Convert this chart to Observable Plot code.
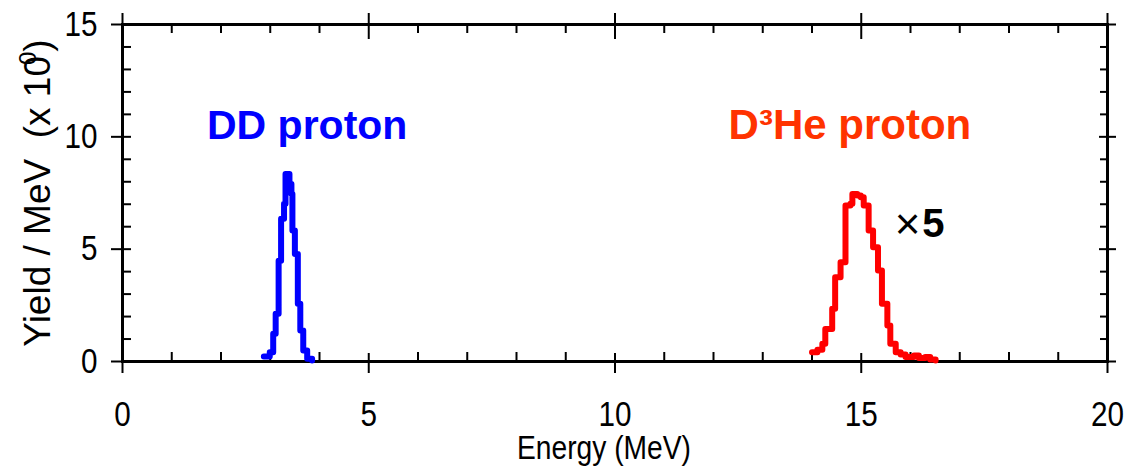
<!DOCTYPE html>
<html><head><meta charset="utf-8">
<script src="https://cdn.jsdelivr.net/npm/d3@7"></script>
<script src="https://cdn.jsdelivr.net/npm/@observablehq/plot@0.6"></script>
<style>
  html,body{margin:0;padding:0;background:#fff;}
  #chart svg{display:block;}
</style>
</head><body><div id="chart"></div>
<script>
// DD proton spectrum (step histogram: bin left edge in MeV, yield / MeV in units of 10^0)
const ddEnergy = [2.87, 2.99, 3.06, 3.11, 3.17, 3.22, 3.28, 3.31, 3.39, 3.43, 3.45, 3.50, 3.56, 3.61, 3.67, 3.75, 3.85];
const ddYield  = [0.22, 0.41, 1.23, 2.12, 4.49, 6.35, 7.02, 8.35, 7.90, 7.46, 5.83, 4.79, 2.57, 1.38, 0.49, 0.12, 0.04];
// D3He proton spectrum, shown multiplied by 5
const d3heEnergy = [14.00, 14.11, 14.21, 14.27, 14.41, 14.47, 14.58, 14.68, 14.78, 14.82, 14.92, 14.99, 15.05, 15.15, 15.24, 15.34, 15.42, 15.53, 15.59, 15.70, 15.80, 15.90, 16.07, 16.17, 16.30, 16.40, 16.51];
const d3heYield  = [0.41, 0.52, 0.79, 1.45, 2.35, 3.75, 4.42, 6.94, 7.02, 7.46, 7.39, 7.31, 6.94, 5.83, 5.09, 4.05, 2.57, 1.60, 0.79, 0.41, 0.31, 0.20, 0.27, 0.16, 0.20, 0.09, 0.05];

const xMajor = [0, 5, 10, 15, 20];
const xMinor = [1, 2, 3, 4, 6, 7, 8, 9, 11, 12, 13, 14, 16, 17, 18, 19];
const yMajor = [0, 5, 10, 15];
const yMinor = [1, 2, 3, 4, 6, 7, 8, 9, 11, 12, 13, 14];
const xTickLabels = ["0", "5", "10", "15", "20"];
const yTickLabels = ["0", "5", "10", "15"];
const xTitle = "Energy (MeV)";
const yTitle = "Yield / MeV  (x 10";
const ddLabel = "DD proton";
const d3heLabel = "D³He proton";

const dd = ddEnergy.map((e, i) => ({e, y: ddYield[i]}));
const d3he = d3heEnergy.map((e, i) => ({e, y: d3heYield[i]}));

const W = 1125, H = 466, mL = 122, mR = 18, mT = 24, mB = 105;
const iw = W - mL - mR, ih = H - mT - mB;

const chart = Plot.plot({
  width: W, height: H,
  marginLeft: mL, marginRight: mR, marginTop: mT, marginBottom: mB,
  style: {fontFamily: "'Liberation Sans', Arial, sans-serif", background: "#fff", color: "#000"},
  x: {domain: [0, 20], label: null},
  y: {domain: [0, 15], label: null},
  marks: [
    // minor ticks (inside)
    Plot.tickX(xMinor, {x: d => d, insetTop: ih - 9, stroke: "#000", strokeWidth: 2}),
    Plot.tickX(xMinor, {x: d => d, insetBottom: ih - 9, stroke: "#000", strokeWidth: 2}),
    Plot.tickY(yMinor, {y: d => d, insetRight: iw - 9, stroke: "#000", strokeWidth: 2}),
    Plot.tickY(yMinor, {y: d => d, insetLeft: iw - 7, stroke: "#000", strokeWidth: 2}),
    // major ticks (crossing)
    Plot.tickX(xMajor, {x: d => d, insetTop: ih - 8, insetBottom: -12, stroke: "#000", strokeWidth: 2}),
    Plot.tickX(xMajor, {x: d => d, insetTop: -11, insetBottom: ih - 15, stroke: "#000", strokeWidth: 2}),
    Plot.tickY(yMajor, {y: d => d, insetLeft: -11, insetRight: iw - 9, stroke: "#000", strokeWidth: 2}),
    Plot.tickY(yMajor, {y: d => d, insetLeft: iw - 8, insetRight: -9, stroke: "#000", strokeWidth: 2}),
    Plot.frame({stroke: "#000", strokeWidth: 3}),
    Plot.axisX({anchor: "bottom", ticks: xMajor, tickSize: 0, tickPadding: 40, fontSize: 35,
      tickFormat: (d) => xTickLabels[xMajor.indexOf(d)]}),
    Plot.axisY({anchor: "left", ticks: yMajor, tickSize: 0, tickPadding: 25, fontSize: 35,
      tickFormat: (d) => yTickLabels[yMajor.indexOf(d)]}),
    Plot.text([xTitle], {text: d => d, frameAnchor: "bottom", lineAnchor: "bottom", textAnchor: "middle", dx: -11, dy: 97, fontSize: 33, fill: "#000"}),
    Plot.text([yTitle], {text: d => d, frameAnchor: "left", textAnchor: "middle", rotate: -90, dx: -84, fontSize: 37, fill: "#000"}),
    Plot.line(dd, {x: "e", y: "y", curve: "step-after", stroke: "#0000ff", strokeWidth: 6, strokeLinejoin: "round", strokeLinecap: "round"}),
    Plot.line(d3he, {x: "e", y: "y", curve: "step-after", stroke: "#ff0000", strokeWidth: 6, strokeLinejoin: "round", strokeLinecap: "round"}),
    Plot.text([ddLabel], {text: d => d, x: 3.75, y: 9.92, lineAnchor: "bottom", fontSize: 41, fontWeight: "bold", fill: "#0000ff"}),
    Plot.text([d3heLabel], {text: d => d, x: 14.77, y: 9.92, lineAnchor: "bottom", fontSize: 42, fontWeight: "bold", fill: "#ff3300"}),
    Plot.text(["×"], {text: d => d, x: 15.68, y: 5.45, lineAnchor: "bottom", textAnchor: "start", fontSize: 44, fill: "#000"}),
    Plot.text(["5"], {text: d => d, x: 16.24, y: 5.52, lineAnchor: "bottom", textAnchor: "start", fontSize: 40, fontWeight: "bold", fill: "#000"})
  ]
});

const svg = d3.select(chart);
// y title: spaces and overlapping superscript exponent
svg.selectAll("text").filter(function() { return this.textContent === yTitle; })
  .each(function() {
    const t = d3.select(this);
    t.text(null);
    t.append("tspan").text("Yield\u00a0/\u00a0MeV\u00a0\u00a0(x\u00a010");
    t.append("tspan").attr("dx", "-9px").attr("dy", "-14px").attr("font-size", "24px").text("0");
    t.append("tspan").attr("dy", "14px").text(")");
  });
// narrow faces like the reference
svg.selectAll("text").filter(function() { return this.textContent === xTitle; })
  .attr("textLength", 174).attr("lengthAdjust", "spacingAndGlyphs");
svg.selectAll("g[aria-label='x-axis tick label'] text, g[aria-label='y-axis tick label'] text")
  .each(function() {
    const n = this.textContent.length;
    d3.select(this).attr("textLength", 16.5 * n).attr("lengthAdjust", "spacingAndGlyphs");
  });

document.getElementById("chart").appendChild(chart);
</script>
</body></html>
